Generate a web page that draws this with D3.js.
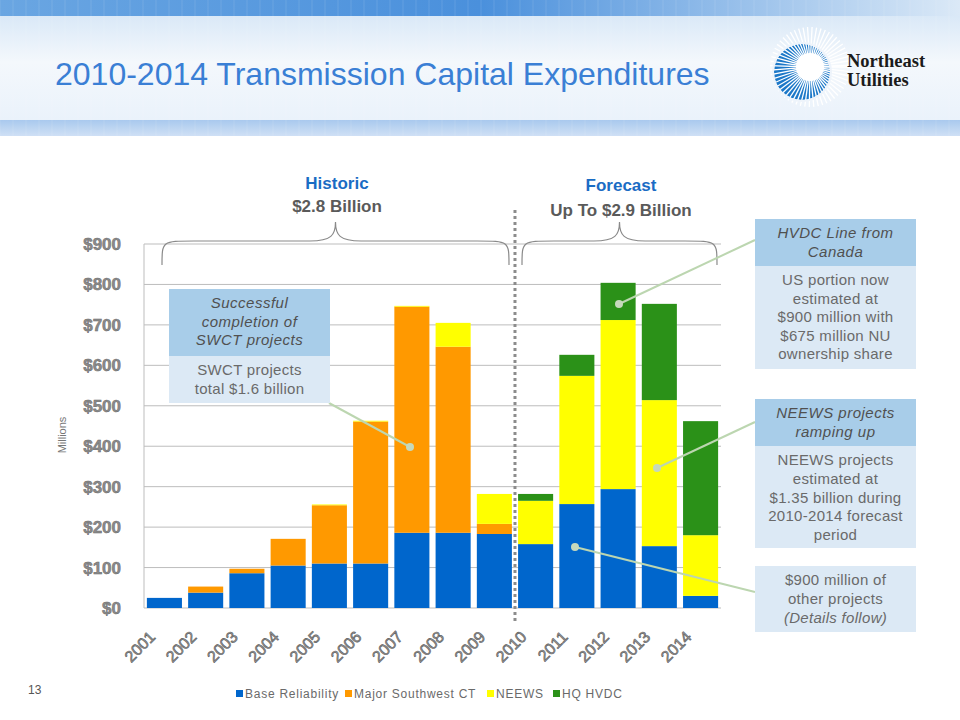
<!DOCTYPE html>
<html>
<head>
<meta charset="utf-8">
<script src="https://cdn.jsdelivr.net/npm/d3@7"></script>
<style>
  html, body { margin: 0; padding: 0; background: #fff; }
  svg { display: block; font-family: "Liberation Sans", Arial, sans-serif; }
</style>
</head>
<body>
<svg id="chart" width="960" height="720"></svg>
<script>
// data (US$ millions)
const years = ["2001","2002","2003","2004","2005","2006","2007","2008","2009","2010","2011","2012","2013","2014"];
const baseReliability = [25, 38, 86, 105, 110, 110, 186, 186, 183, 158, 257, 294, 153, 30];
const majorSouthwestCT = [0, 15, 11, 66, 144, 351, 559, 460, 25, 0, 0, 0, 0, 0];
const neews = [0, 0, 0, 0, 2, 2, 2, 59, 74, 107, 317, 418, 361, 150];
const hqHvdc = [0, 0, 0, 0, 0, 0, 0, 0, 0, 17, 52, 92, 238, 282];
const seriesNames = ["Base Reliability", "Major Southwest CT", "NEEWS", "HQ HVDC"];
const seriesColors = ["#0066cc", "#ff9900", "#ffff00", "#2b9118"];
const yTicks = [0, 100, 200, 300, 400, 500, 600, 700, 800, 900];

const svg = d3.select("#chart");
const defs = svg.append("defs");

// ---- header band ----
const topGrad = defs.append("linearGradient").attr("id", "topGrad");
topGrad.append("stop").attr("offset", "0%").attr("stop-color", "#6aa6e2");
topGrad.append("stop").attr("offset", "50%").attr("stop-color", "#4a90dc");
topGrad.append("stop").attr("offset", "100%").attr("stop-color", "#dbe9f7");
const midGrad = defs.append("linearGradient").attr("id", "midGrad").attr("x1", 0).attr("y1", 0).attr("x2", 0).attr("y2", 1);
midGrad.append("stop").attr("offset", "0%").attr("stop-color", "#d9e8f7");
midGrad.append("stop").attr("offset", "45%").attr("stop-color", "#f4f8fc");
midGrad.append("stop").attr("offset", "100%").attr("stop-color", "#eaf2fb");
const botGrad = defs.append("linearGradient").attr("id", "botGrad").attr("x1", 0).attr("y1", 0).attr("x2", 0).attr("y2", 1);
botGrad.append("stop").attr("offset", "0%").attr("stop-color", "#a9c9ee");
botGrad.append("stop").attr("offset", "100%").attr("stop-color", "#cfe0f5");

const header = svg.append("g").attr("class", "header");
header.append("rect").attr("x", 0).attr("y", 15).attr("width", 960).attr("height", 105).attr("fill", "url(#midGrad)");
header.append("rect").attr("x", 0).attr("y", 0).attr("width", 960).attr("height", 16).attr("fill", "url(#topGrad)");
header.append("rect").attr("x", 0).attr("y", 120).attr("width", 960).attr("height", 16).attr("fill", "url(#botGrad)");
header.selectAll("line.tick")
  .data(d3.range(0, 960, 13))
  .join("line")
  .attr("x1", (d) => d).attr("x2", (d) => d)
  .attr("y1", 0).attr("y2", 136)
  .attr("stroke", "#fff").attr("stroke-opacity", 0.12);

header.append("text")
  .attr("x", 55).attr("y", 85)
  .attr("font-size", 32)
  .attr("fill", "#3a7fd5")
  .text("2010-2014 Transmission Capital Expenditures");

// logo: sunburst + name
const logo = header.append("g").attr("transform", "translate(802,72)");
logo.append("circle").attr("r", 28).attr("fill", "#1c78c8");
logo.selectAll("line.ray")
  .data(d3.range(0, 360, 6.5))
  .join("line")
  .attr("x1", 8).attr("y1", -5)
  .attr("x2", (d) => 8 + 40 * Math.cos(d * Math.PI / 180))
  .attr("y2", (d) => -5 + 40 * Math.sin(d * Math.PI / 180))
  .attr("stroke", "#fff").attr("stroke-width", 1.3);
logo.append("circle").attr("r", 29).attr("fill", "none").attr("stroke", "#eef4fb").attr("stroke-width", 2);
logo.append("circle").attr("cx", 8).attr("cy", -5).attr("r", 14).attr("fill", "#fff");
header.append("text").attr("x", 847).attr("y", 67)
  .attr("font-family", "Liberation Serif, serif").attr("font-weight", "bold")
  .attr("font-size", 18.5).attr("fill", "#1b1b1b").text("Northeast");
header.append("text").attr("x", 847).attr("y", 86)
  .attr("font-family", "Liberation Serif, serif").attr("font-weight", "bold")
  .attr("font-size", 18.5).attr("fill", "#1b1b1b").text("Utilities");

// ---- chart ----
const x = d3.scaleBand().domain(years).range([144, 721]).paddingInner(0.15).paddingOuter(0.07);
const y = d3.scaleLinear().domain([0, 900]).range([608, 244]);

const grid = svg.append("g").attr("class", "grid");
grid.selectAll("line")
  .data(yTicks)
  .join("line")
  .attr("x1", 144).attr("x2", 721)
  .attr("y1", (d) => y(d)).attr("y2", (d) => y(d))
  .attr("stroke", "#bdbdbd").attr("stroke-width", 1);
grid.append("line").attr("x1", 144).attr("x2", 144).attr("y1", y(900)).attr("y2", y(0))
  .attr("stroke", "#bdbdbd");

const yAxis = svg.append("g").attr("transform", "translate(124,0)")
  .call(d3.axisLeft(y).tickValues(yTicks).tickSize(0).tickFormat((d) => "$" + d));
yAxis.select(".domain").remove();
yAxis.selectAll("text")
  .attr("font-family", "Liberation Sans, Arial, sans-serif")
  .attr("font-size", 17).attr("font-weight", "bold")
  .attr("fill", "#8c8c8c").attr("stroke", "#6a6a6a").attr("stroke-width", 0.5);

svg.append("text")
  .attr("transform", "translate(66,435) rotate(-90)")
  .attr("text-anchor", "middle")
  .attr("font-size", 11).attr("fill", "#777")
  .text("Millions");

const table = years.map((yr, i) => ({
  year: yr,
  s0: baseReliability[i], s1: majorSouthwestCT[i], s2: neews[i], s3: hqHvdc[i]
}));
const stacked = d3.stack().keys(["s0", "s1", "s2", "s3"])(table);

svg.append("g").attr("class", "bars")
  .selectAll("g")
  .data(stacked)
  .join("g")
  .attr("fill", (d, i) => seriesColors[i])
  .selectAll("rect")
  .data((d) => d.filter((p) => p[1] > p[0]))
  .join("rect")
  .attr("x", (d) => x(d.data.year))
  .attr("width", x.bandwidth())
  .attr("y", (d) => y(d[1]))
  .attr("height", (d) => y(d[0]) - y(d[1]));

const xAxis = svg.append("g").attr("transform", "translate(0,612)")
  .call(d3.axisBottom(x).tickSize(0).tickPadding(0));
xAxis.select(".domain").remove();
xAxis.selectAll("text")
  .attr("font-family", "Liberation Sans, Arial, sans-serif")
  .attr("font-size", 16)
  .attr("fill", "#9a9a9a").attr("stroke", "#5e5e5e").attr("stroke-width", 0.6)
  .attr("text-anchor", "end")
  .attr("y", 0)
  .attr("dy", "0.35em")
  .attr("transform", "translate(-12,22) rotate(-45)");

// dotted divider between historic and forecast
const divX = (x("2009") + x.bandwidth() + x("2010")) / 2;
svg.append("line")
  .attr("x1", divX).attr("x2", divX).attr("y1", 210).attr("y2", 622)
  .attr("stroke", "#8c8c8c").attr("stroke-width", 3).attr("stroke-dasharray", "3,3");

// braces
function brace(x0, x1, yFlat, yEnd, yTip) {
  const m = (x0 + x1) / 2;
  const r = 16;
  return `M${x0},${yEnd} C${x0},${yFlat} ${x0},${yFlat} ${x0 + r * 2},${yFlat}`
    + ` L${m - r * 1.6},${yFlat} C${m - 4},${yFlat} ${m},${yFlat - 6} ${m},${yTip}`
    + ` C${m},${yFlat - 6} ${m + 4},${yFlat} ${m + r * 1.6},${yFlat}`
    + ` L${x1 - r * 2},${yFlat} C${x1},${yFlat} ${x1},${yFlat} ${x1},${yEnd}`;
}
svg.append("path").attr("d", brace(162, 509, 241, 265, 222))
  .attr("fill", "none").attr("stroke", "#8a8a8a").attr("stroke-width", 1.2);
svg.append("path").attr("d", brace(522, 717, 241, 265, 222))
  .attr("fill", "none").attr("stroke", "#8a8a8a").attr("stroke-width", 1.2);

const heads = [
  { x: 337, t1: "Historic", t2: "$2.8 Billion", y1: 189, y2: 212 },
  { x: 621, t1: "Forecast", t2: "Up To $2.9 Billion", y1: 191, y2: 216 }
];
heads.forEach((h) => {
  svg.append("text").attr("x", h.x).attr("y", h.y1).attr("text-anchor", "middle")
    .attr("font-size", 17).attr("font-weight", "bold").attr("fill", "#1a6cc4").text(h.t1);
  svg.append("text").attr("x", h.x).attr("y", h.y2).attr("text-anchor", "middle")
    .attr("font-size", 17).attr("font-weight", "bold").attr("fill", "#5a5a5a").text(h.t2);
});

// ---- callouts ----
const connectors = [
  { x1: 329, y1: 403, x2: 410, y2: 447 },
  { x1: 755, y1: 240, x2: 619, y2: 304 },
  { x1: 755, y1: 422, x2: 657, y2: 468 },
  { x1: 755, y1: 592, x2: 575, y2: 547 }
];
const conn = svg.append("g").attr("class", "connectors");
conn.selectAll("line").data(connectors).join("line")
  .attr("x1", (d) => d.x1).attr("y1", (d) => d.y1)
  .attr("x2", (d) => d.x2).attr("y2", (d) => d.y2)
  .attr("stroke", "#bcd6b0").attr("stroke-width", 2);
conn.selectAll("circle").data(connectors).join("circle")
  .attr("cx", (d) => d.x2).attr("cy", (d) => d.y2).attr("r", 4)
  .attr("fill", "#c6d9bc");

function callout(x0, w, headY, headH, headLines, bodyH, bodyLines, lineH) {
  const g = svg.append("g");
  if (headLines.length) {
    g.append("rect").attr("x", x0).attr("y", headY).attr("width", w).attr("height", headH).attr("fill", "#a8cde9");
    headLines.forEach((t, i) => {
      g.append("text").attr("x", x0 + w / 2).attr("y", headY + 19 + i * lineH)
        .attr("text-anchor", "middle").attr("font-size", 15).attr("font-style", "italic")
        .attr("letter-spacing", 0.5).attr("fill", "#505050").text(t);
    });
  }
  const by = headY + headH;
  g.append("rect").attr("x", x0).attr("y", by).attr("width", w).attr("height", bodyH).attr("fill", "#dce9f5");
  bodyLines.forEach((t, i) => {
    const txt = g.append("text").attr("x", x0 + w / 2).attr("y", by + 19 + i * lineH)
      .attr("text-anchor", "middle").attr("font-size", 15).attr("letter-spacing", 0.3).attr("fill", "#6a6a6a");
    if (t.startsWith("(")) txt.attr("font-style", "italic");
    txt.text(t);
  });
}
callout(169, 161, 289, 67, ["Successful", "completion of", "SWCT projects"], 47, ["SWCT projects", "total $1.6 billion"], 18.7);
callout(755, 161, 219, 47, ["HVDC Line from", "Canada"], 103, ["US portion now", "estimated at", "$900 million with", "$675 million NU", "ownership share"], 18.5);
callout(755, 161, 399, 47, ["NEEWS projects", "ramping up"], 102, ["NEEWS projects", "estimated at", "$1.35 billion during", "2010-2014 forecast", "period"], 18.8);
callout(755, 161, 566, 0, [], 66, ["$900 million of", "other projects", "(Details follow)"], 19);

// ---- legend ----
const legendX = [236, 345, 487, 553];
const legend = svg.append("g").attr("class", "legend");
seriesNames.forEach((name, i) => {
  legend.append("rect").attr("x", legendX[i]).attr("y", 690).attr("width", 7).attr("height", 7)
    .attr("fill", seriesColors[i]);
  legend.append("text").attr("x", legendX[i] + 9).attr("y", 698)
    .attr("font-size", 12).attr("letter-spacing", 0.75).attr("fill", "#6a6a6a").text(name);
});

svg.append("text").attr("x", 28).attr("y", 694).attr("font-size", 12).attr("fill", "#555").text("13");
</script>
</body>
</html>
